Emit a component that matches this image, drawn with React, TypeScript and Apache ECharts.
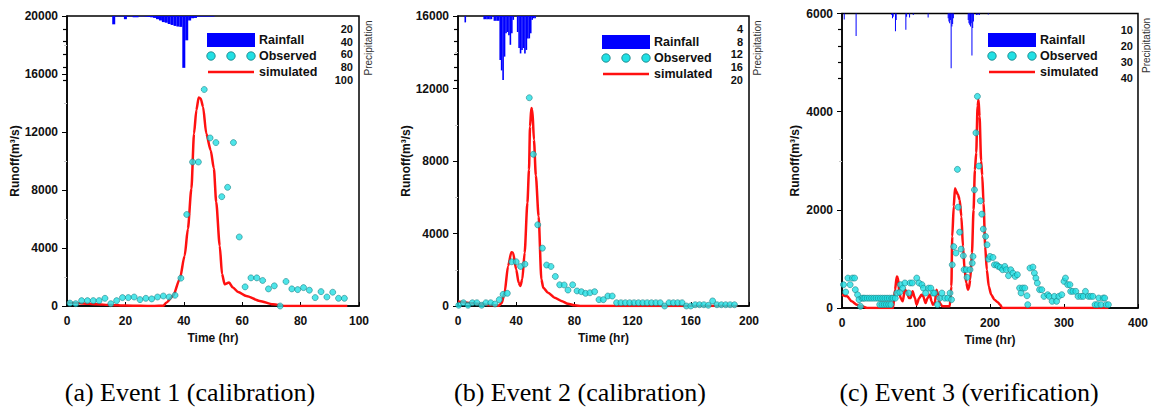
import React, { useEffect, useRef } from "react";
import * as echarts from "echarts";

// ---------- DATA ----------
const panelTitles = ["(a) Event 1 (calibration)", "(b) Event 2 (calibration)", "(c) Event 3 (verification)"];
const xMaxes = [100, 200, 400];
const xIntervals = [20, 40, 100];
const yMaxes = [20000, 16000, 6000];
const yIntervals = [4000, 4000, 2000];
const pMaxes = [100, 20, 40];
const pIntervals = [20, 4, 10];
const legendNames = ["Rainfall", "Observed", "simulated"];

// Event 1 rainfall [hour, mm]
const rain1 = [
  [16, 13], [17, 0.6], [18, 0.6], [19, 0.6], [20, 5], [21, 0.6], [22, 0.6], [23, 2], [24, 2], [25, 0.6], [26, 0.6],
  [27, 1], [28, 1.5], [29, 2], [30, 3], [31, 5], [32, 7], [33, 9.5], [34, 10.5], [35, 12.5], [36, 14], [37, 15.5],
  [38, 16.5], [39, 17], [40, 81], [41, 38], [42, 7], [43, 3.5], [44, 3], [45, 1], [46, 1], [47, 1], [48, 1], [49, 1], [50, 1],
];
// Event 1 observed runoff [hour, m3/s]
const obs1 = [
  [1, 200], [3, 160], [5, 370], [7, 370], [9, 370], [11, 370], [13, 530], [15, 160], [17, 370], [19, 580],
  [21, 580], [23, 620], [25, 440], [27, 530], [29, 490], [31, 620], [33, 690], [35, 620], [37, 740], [39, 1920],
  [41, 6310], [43, 9930], [45, 9930], [47, 14930], [49, 11590], [51, 11270], [53, 7540], [55, 8185], [57, 11270], [59, 4760],
  [61, 1320], [63, 1940], [65, 1940], [67, 1760], [69, 1180], [71, 1390], [73, 0], [75, 1690], [77, 1180], [79, 1130],
  [81, 1270], [83, 1090], [85, 580], [87, 990], [89, 620], [91, 950], [93, 530], [95, 530],
];
// Event 1 simulated runoff
const sim1 = [
  [0, 250], [5, 180], [10, 120], [15, 70], [20, 30], [25, 10], [30, 0], [33, 20], [34, 230], [36.3, 690],
  [38.6, 1850], [40.3, 3470], [41.4, 5320], [42.6, 8090], [43.5, 11890], [44.3, 13500], [45.1, 14380], [45.8, 14300],
  [46.6, 13730], [47.7, 11890], [49.2, 10740], [50.3, 9480], [51.1, 7170], [52.3, 4160], [53.1, 2200], [54, 1500],
  [55.5, 1620], [56.8, 1270], [58.6, 970], [61.4, 690], [66, 350], [70.5, 120], [75, 0], [85, 0], [96, 0],
];

// Event 2 rainfall
const rain2 = [
  [5, 2], [18, 1], [19, 1], [20, 1], [21, 1], [22, 1], [23, 1], [25, 1.5], [26, 1.5], [27, 1.5], [28, 1.5],
  [29, 13.75], [30, 17], [31, 20], [32, 12.7], [33, 5.4], [34, 5], [35, 6], [36, 9], [37, 5.4], [38, 1.2],
  [41, 5], [42, 10], [43, 11.7], [44, 10.6], [45, 10], [46, 11.7], [47, 10.6], [48, 7], [49, 7], [50, 5.4],
  [51, 1.2], [52, 0.7], [53, 0.7],
];
const obs2 = [
  [0.5, 40], [3.7, 180], [6.9, 40], [9.9, 180], [13, 180], [16.3, 40], [19.2, 180], [22.5, 180], [25.4, 110], [28.4, 350],
  [31, 640], [33.9, 700], [36.9, 2440], [40, 2440], [43, 2180], [46, 2310], [49, 11490], [51.8, 8370], [54.8, 4480], [58, 3190],
  [60.9, 2260], [63.9, 2180], [66.9, 1630], [69.9, 1170], [73, 1160], [75.6, 880], [78.8, 1170], [81.8, 830], [84.8, 790], [87.7, 700],
  [90.7, 730], [93.9, 790], [96.9, 350], [99.9, 350], [103, 550], [106, 550], [109, 180], [112, 180], [115, 180], [118, 180],
  [121, 180], [124, 180], [127, 180], [130, 180], [133, 180], [136, 180], [139, 180], [142, 0], [145, 180], [148, 180],
  [151, 180], [154, 180], [157, 0], [160, 0], [163, 70], [166, 70], [169, 70], [172, 40], [175, 280], [178, 70],
  [181, 70], [184, 70], [187, 70], [190, 70],
];
const sim2 = [
  [0, 250], [10, 150], [20, 60], [28, 20], [30, 150], [32, 730], [34.4, 2200], [36.7, 2970], [37.8, 2940], [40, 2020],
  [41.7, 1280], [42.8, 1100], [44.2, 1470], [45.8, 2940], [47.7, 5690], [48.8, 7520], [49.5, 9910], [50.4, 10920],
  [51.1, 10830], [52.2, 9170], [53.5, 7200], [55.4, 4950], [57.3, 1470], [58.6, 1010], [61.9, 730], [66.4, 460],
  [71, 280], [75.6, 130], [80, 40], [85, 0], [192, 0],
];

// Event 3 rainfall
const rain3 = [
  [3, 3.7], [19, 14], [67, 1], [68, 3], [69, 2], [72, 11], [73, 4], [86, 10], [87, 2], [91, 2.5], [96, 1], [116, 2.5],
  [143, 3], [144, 5], [145, 6], [146, 4], [147, 34], [148, 8], [149, 6.5], [150, 3], [170, 4], [171, 6], [172, 7],
  [173, 8], [174, 6], [175, 26], [176, 9], [177, 5], [181, 1], [183, 1], [185, 1], [197, 0.6],
];
const obs3 = [
  [2, 475], [5, 325], [8, 610], [11, 475], [14, 610], [17, 610], [18, 373], [21, 270], [23, 170], [25, 35], [27, 200],
  [29, 200], [31, 200], [34, 200], [37, 200], [40, 200], [43, 200], [46, 200], [49, 200],
  [51, 70], [52, 200], [54, 70], [55, 200], [57, 70], [58, 200], [60, 70], [61, 200], [63, 70], [64, 200], [66, 70], [67, 200],
  [69, 200], [72, 200], [74, 305], [78, 320], [79, 475], [82, 405], [85, 510], [90, 305], [92, 510], [95, 510],
  [101, 610], [104, 510], [108, 475], [110, 405], [113, 305], [117, 405], [120, 405], [123, 305], [125, 305], [129, 70],
  [132, 200], [135, 305], [139, 200], [143, 200], [146, 305], [148, 170], [149, 880], [151, 1250], [154, 1120], [156, 2824],
  [157, 2054], [159, 1545], [161, 1200], [164, 1064], [165, 780], [168, 780], [169, 624], [173, 780], [176, 915], [177, 1050],
  [179, 2407], [181, 3568], [183, 4311], [185, 2892], [187, 2183], [189, 1912], [191, 1607], [194, 1458], [196, 1288], [198, 997],
  [200, 1050], [204, 1030], [206, 880], [209, 880], [211, 847], [214, 827], [217, 780], [220, 847], [222, 780], [225, 658],
  [228, 780], [231, 712], [234, 644], [237, 678], [240, 407], [242, 305], [244, 407], [247, 407], [250, 250], [251, 68],
  [254, 814], [258, 834], [260, 712], [262, 610], [264, 508], [267, 373], [270, 373], [273, 237], [278, 271], [280, 237],
  [284, 136], [287, 237], [290, 136], [293, 237], [297, 271], [300, 542], [302, 610], [305, 475], [308, 475], [309, 339],
  [312, 339], [316, 339], [319, 237], [323, 237], [326, 237], [329, 339], [333, 237], [336, 237], [339, 237], [342, 68],
  [345, 68], [347, 203], [350, 68], [353, 203], [355, 203], [357, 68], [360, 68],
];
const sim3 = [
  [0, 270], [7, 237], [13, 136], [20, 68], [27, 34], [34, 0], [69, 0], [71.7, 373], [74, 644], [75.7, 610],
  [77.5, 305], [79.3, 203], [82, 136], [85, 373], [87.3, 339], [90.5, 203], [92.7, 203], [95.4, 339], [98.5, 203], [100.8, 68],
  [104.4, 203], [107.5, 271], [109.7, 237], [112.9, 102], [115.6, 203], [118.7, 271], [121, 136], [123, 68], [125.4, 102], [127.7, 373],
  [130, 271], [132, 102], [135.7, 34], [145.6, 34], [147.8, 440], [149, 1458], [151, 2068], [152.7, 2440], [154.5, 2373], [156.8, 2305],
  [159, 2203], [161.3, 1864], [163.5, 1254], [165.7, 780], [168, 508], [170.2, 373], [171.5, 407], [173.3, 576], [175.6, 1118], [177.8, 2000],
  [179.6, 2814], [181.4, 3162], [183.2, 4108], [184.5, 4243], [185.9, 3905], [188, 3000], [189.5, 2700], [191.3, 2136], [193.5, 1254], [195.7, 780],
  [198.4, 440], [201.6, 271], [206, 170], [210.5, 115], [213.7, 68], [216.3, 0], [360, 0],
];

const rains = [rain1, rain2, rain3];
const observed = [obs1, obs2, obs3];
const simulated = [sim1, sim2, sim3];

// ---------- LAYOUT / STYLE ----------
const FONT = "'Liberation Sans', Arial, Helvetica, sans-serif";
const layout = [
  { left: 67, top: 16, width: 292, height: 290, rainH: 64, gapY: 45, gapX: 24, barW: 3, legX: 207, legY: 33, capX: 190, precX: 368 },
  { left: 458, top: 16, width: 291, height: 290, rainH: 64, gapY: 46, gapX: 24, barW: 1.6, legX: 602, legY: 35, capX: 580, precX: 757 },
  { left: 842, top: 13.5, width: 297, height: 294.5, rainH: 64.5, gapY: 41, gapX: 25, barW: 1, legX: 988, legY: 33, capX: 969, precX: 1146 },
];
const CYAN = "#22dfe4";
const CYAN_EDGE = "#137c80";
const RED = "#ff1010";
const BLUE = "#0000ff";
const plain = (v: number) => String(v);

function buildOption() {
  const grid: any[] = [];
  const xAxis: any[] = [];
  const yAxis: any[] = [];
  const series: any[] = [];
  const graphic: any[] = [];

  layout.forEach((L, i) => {
    const mainIdx = i * 2;
    const rainIdx = i * 2 + 1;
    grid.push({
      left: L.left, top: L.top, width: L.width, height: L.height,
      show: true, borderColor: "#000", borderWidth: 1.5, backgroundColor: "transparent",
    });
    grid.push({ left: L.left, top: L.top, width: L.width, height: L.rainH, show: false });

    xAxis.push({
      type: "value", gridIndex: mainIdx, min: 0, max: xMaxes[i], interval: xIntervals[i],
      name: "Time (hr)", nameLocation: "middle", nameGap: L.gapX,
      nameTextStyle: { fontFamily: FONT, fontWeight: "bold", fontSize: 12, color: "#111" },
      axisLine: { show: true, onZero: false, lineStyle: { color: "#000", width: 1.5 } },
      axisTick: { show: true, inside: true, length: 4, lineStyle: { color: "#000" } },
      axisLabel: { fontFamily: FONT, fontWeight: "bold", fontSize: 12, color: "#111", margin: 9, formatter: plain },
      splitLine: { show: false },
    });
    xAxis.push({ type: "value", gridIndex: rainIdx, min: 0, max: xMaxes[i], show: false, splitLine: { show: false } });

    yAxis.push({
      type: "value", gridIndex: mainIdx, min: 0, max: yMaxes[i], interval: yIntervals[i],
      name: "Runoff(m³/s)", nameLocation: "middle", nameGap: L.gapY, nameRotate: 90,
      nameTextStyle: { fontFamily: FONT, fontWeight: "bold", fontSize: 12, color: "#111" },
      axisLine: { show: true, lineStyle: { color: "#000", width: 1.5 } },
      axisTick: { show: true, length: 5, lineStyle: { color: "#000" } },
      minorTick: { show: true, splitNumber: 2, length: 3, lineStyle: { color: "#c8c8c8" } },
      axisLabel: { fontFamily: FONT, fontWeight: "bold", fontSize: 12, color: "#111", margin: 9, formatter: plain },
      splitLine: { show: false },
    });
    yAxis.push({
      type: "value", gridIndex: rainIdx, position: "right", inverse: true, min: 0, max: pMaxes[i], interval: pIntervals[i],
      axisLine: { show: false },
      axisTick: { show: true, inside: true, length: 4, lineStyle: { color: "#000", width: 1.2 } },
      axisLabel: { inside: true, showMinLabel: false, fontFamily: FONT, fontWeight: "bold", fontSize: 11, color: "#111", margin: 6, formatter: plain },
      splitLine: { show: false },
    });

    series.push({
      type: "bar", xAxisIndex: rainIdx, yAxisIndex: rainIdx, data: rains[i], barWidth: L.barW,
      itemStyle: { color: BLUE }, silent: true,
    });
    series.push({
      type: "line", xAxisIndex: mainIdx, yAxisIndex: mainIdx, data: simulated[i], showSymbol: false,
      smooth: 0.25, smoothMonotone: "x", lineStyle: { color: RED, width: 2.5 }, z: 3,
    });
    series.push({
      type: "scatter", xAxisIndex: mainIdx, yAxisIndex: mainIdx, data: observed[i], symbolSize: 6, clip: false,
      itemStyle: { color: CYAN, borderColor: CYAN_EDGE, borderWidth: 0.7 }, z: 4,
    });

    // legend
    const lx = L.legX, ly = L.legY;
    graphic.push({ type: "rect", shape: { x: lx, y: ly, width: 48, height: 14 }, style: { fill: BLUE } });
    [4, 24, 44].forEach((dx) => {
      graphic.push({ type: "circle", shape: { cx: lx + dx, cy: ly + 23, r: 4.2 }, style: { fill: CYAN, stroke: CYAN_EDGE, lineWidth: 0.8 } });
    });
    graphic.push({ type: "line", shape: { x1: lx + 1, y1: ly + 39, x2: lx + 47, y2: ly + 39 }, style: { stroke: RED, lineWidth: 2.5 } });
    legendNames.forEach((nm, k) => {
      graphic.push({
        type: "text", x: lx + 52, y: ly + 7 + k * 16,
        style: { text: nm, fontFamily: FONT, fontWeight: "bold", fontSize: 12.5, fill: "#111", verticalAlign: "middle", align: "left" },
      });
    });
    // precipitation label
    graphic.push({
      type: "text", x: L.precX, y: L.top + 32, rotation: Math.PI / 2,
      style: { text: "Precipitation", fontFamily: FONT, fontSize: 10, fill: "#333", align: "center", verticalAlign: "middle" },
    });
    // caption
    graphic.push({
      type: "text", x: L.capX, y: 392,
      style: { text: panelTitles[i], fontFamily: "'Liberation Serif', 'Times New Roman', serif", fontSize: 26, fill: "#000", align: "center", verticalAlign: "middle" },
    });
  });

  return { animation: false, backgroundColor: "#fff", grid, xAxis, yAxis, series, graphic };
}

export default function App() {
  const ref = useRef<HTMLDivElement>(null);
  useEffect(() => {
    if (!ref.current) return;
    const chart = echarts.init(ref.current, undefined, { renderer: "svg" });
    chart.setOption(buildOption() as any);
    return () => chart.dispose();
  }, []);
  return <div ref={ref} style={{ position: "absolute", left: 0, top: 0, width: 1151, height: 408 }} />;
}
